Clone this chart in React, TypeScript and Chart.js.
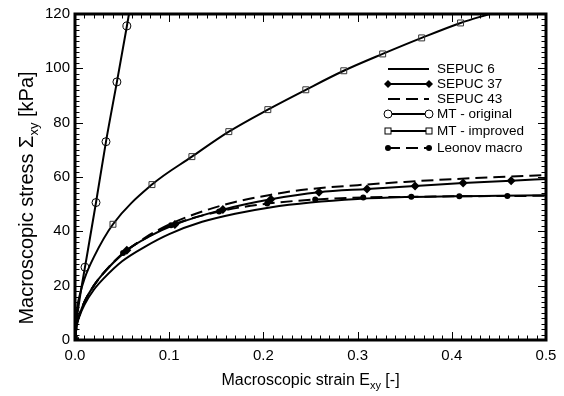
import React, { useEffect, useRef } from "react";
import { Chart, registerables } from "chart.js";

Chart.register(...registerables);

const FONT = '"Liberation Sans", Arial, Helvetica, sans-serif';

// ---------- data ----------
const sepuc6Strain = [0, 0.002, 0.005, 0.01, 0.02, 0.03, 0.05, 0.075, 0.1, 0.135, 0.17, 0.207, 0.25, 0.3, 0.35, 0.4, 0.45, 0.5];
const sepuc6Stress = [0, 5.5, 9, 13, 18.5, 22.5, 29, 34.5, 39, 43.5, 46.5, 48.8, 50.6, 51.9, 52.6, 52.9, 53.1, 53.3];

const sepuc37Strain = [0, 0.002, 0.005, 0.01, 0.02, 0.03, 0.055, 0.08, 0.106, 0.157, 0.208, 0.259, 0.31, 0.361, 0.412, 0.463, 0.5];
const sepuc37Stress = [0, 6, 9.5, 14, 20, 24.5, 33, 38.3, 42.5, 48, 51.8, 54.4, 55.6, 56.7, 57.8, 58.6, 59.3];
const sepuc37Markers = [0, 0.055, 0.106, 0.157, 0.208, 0.259, 0.31, 0.361, 0.412, 0.463];

const sepuc43Strain = [0, 0.002, 0.005, 0.01, 0.02, 0.03, 0.05, 0.075, 0.1, 0.135, 0.17, 0.207, 0.24, 0.3, 0.35, 0.4, 0.45, 0.5];
const sepuc43Stress = [0, 6, 9.5, 14, 20, 24.5, 31.5, 37.8, 42.5, 47.3, 50.8, 53.4, 55.2, 57, 58.2, 59.2, 60, 60.7];

const mtOrigStrain = [0, 0.001, 0.003, 0.006, 0.0106, 0.0223, 0.0329, 0.0445, 0.0551, 0.0573];
const mtOrigStress = [0, 5, 10.5, 17.5, 26.8, 50.6, 73, 95, 115.6, 120];
const mtOrigMarkers = [0, 0.0106, 0.0223, 0.0329, 0.0445, 0.0551];

const mtImpStrain = [0, 0.002, 0.005, 0.01, 0.02, 0.0403, 0.0817, 0.1241, 0.1633, 0.2047, 0.245, 0.2853, 0.3266, 0.368, 0.4093, 0.4401];
const mtImpStress = [0, 11, 16.5, 22.5, 30.5, 42.6, 57.2, 67.5, 76.7, 84.8, 92.1, 99.1, 105.3, 111.2, 116.7, 120];
const mtImpMarkers = [0, 0.0403, 0.0817, 0.1241, 0.1633, 0.2047, 0.245, 0.2853, 0.3266, 0.368, 0.4093];

const leonovStrain = [0, 0.002, 0.005, 0.01, 0.02, 0.03, 0.051, 0.075, 0.102, 0.153, 0.204, 0.255, 0.306, 0.357, 0.408, 0.459, 0.5];
const leonovStress = [0, 6, 9.5, 14, 20, 24.5, 32, 37.5, 42.2, 47.3, 50.2, 51.7, 52.5, 52.7, 52.9, 53, 53.1];
const leonovMarkers = [0, 0.051, 0.102, 0.153, 0.204, 0.255, 0.306, 0.357, 0.408, 0.459];

const legendLabels = ["SEPUC 6", "SEPUC 37", "SEPUC 43", "MT - original", "MT - improved", "Leonov macro"];

const xMin = 0, xMax = 0.5, xMajor = 0.1, xMinor = 0.01;
const yMin = 0, yMax = 120, yMajor = 20, yMinor = 2;

const xTitle = ["Macroscopic strain E", "xy", " [-]"];
const yTitle = ["Macroscopic stress \u03A3", "xy", " [kPa]"];

// ---------- helpers ----------
const pts = (xs: number[], ys: number[]) => xs.map((x, i) => ({ x, y: ys[i] }));
const markerRadius = (markers: number[], r: number) => (ctx: any) => {
  const raw = ctx.raw;
  if (!raw) return 0;
  return markers.some((m) => Math.abs(m - raw.x) < 1e-9) ? r : 0;
};

type Marker = "none" | "circleOpen" | "diamond" | "square" | "dot";

function drawMarker(ctx: CanvasRenderingContext2D, kind: Marker, x: number, y: number) {
  ctx.save();
  ctx.setLineDash([]);
  ctx.strokeStyle = "#000";
  ctx.fillStyle = "#000";
  if (kind === "circleOpen") {
    ctx.lineWidth = 1;
    ctx.beginPath();
    ctx.arc(x, y, 4, 0, Math.PI * 2);
    ctx.fillStyle = "#fff";
    ctx.fill();
    ctx.stroke();
  } else if (kind === "square") {
    ctx.lineWidth = 1;
    ctx.fillStyle = "#fff";
    ctx.fillRect(x - 3, y - 3, 6, 6);
    ctx.strokeRect(x - 3, y - 3, 6, 6);
  } else if (kind === "diamond") {
    ctx.beginPath();
    ctx.moveTo(x, y - 4);
    ctx.lineTo(x + 4, y);
    ctx.lineTo(x, y + 4);
    ctx.lineTo(x - 4, y);
    ctx.closePath();
    ctx.fill();
  } else if (kind === "dot") {
    ctx.beginPath();
    ctx.arc(x, y, 3, 0, Math.PI * 2);
    ctx.fill();
  }
  ctx.restore();
}

function drawSubText(
  ctx: CanvasRenderingContext2D,
  parts: string[],
  cx: number,
  baseline: number,
  size: number,
  subSize: number,
  subDrop: number
) {
  ctx.font = `${size}px ${FONT}`;
  const w0 = ctx.measureText(parts[0]).width;
  const w2 = ctx.measureText(parts[2]).width;
  ctx.font = `${subSize}px ${FONT}`;
  const w1 = ctx.measureText(parts[1]).width;
  const total = w0 + w1 + w2;
  let x = cx - total / 2;
  ctx.textAlign = "left";
  ctx.textBaseline = "alphabetic";
  ctx.fillStyle = "#000";
  ctx.font = `${size}px ${FONT}`;
  ctx.fillText(parts[0], x, baseline);
  x += w0;
  ctx.font = `${subSize}px ${FONT}`;
  ctx.fillText(parts[1], x, baseline + subDrop);
  x += w1;
  ctx.font = `${size}px ${FONT}`;
  ctx.fillText(parts[2], x, baseline);
}

const legendStyles: { dash: number[]; marker: Marker }[] = [
  { dash: [], marker: "none" },
  { dash: [], marker: "diamond" },
  { dash: [12, 6], marker: "none" },
  { dash: [], marker: "circleOpen" },
  { dash: [], marker: "square" },
  { dash: [12, 6], marker: "dot" },
];
const legendRowsY = [69, 84, 99, 114, 131, 148];

const framePlugin = {
  id: "framePlugin",
  afterDatasetsDraw(chart: any) {
    const ctx: CanvasRenderingContext2D = chart.ctx;
    const { left, right, top, bottom } = chart.chartArea;
    const xs = chart.scales.x;
    const ys = chart.scales.y;
    ctx.save();
    // ticks
    ctx.strokeStyle = "#000";
    ctx.lineWidth = 1;
    ctx.setLineDash([]);
    const nX = Math.round((xMax - xMin) / xMinor);
    for (let i = 0; i <= nX; i++) {
      const v = xMin + i * xMinor;
      const major = i % Math.round(xMajor / xMinor) === 0;
      const len = major ? 8 : 4.5;
      const px = Math.round(xs.getPixelForValue(v)) + 0.5;
      ctx.beginPath();
      ctx.moveTo(px, bottom);
      ctx.lineTo(px, bottom - len);
      ctx.moveTo(px, top);
      ctx.lineTo(px, top + len);
      ctx.stroke();
    }
    const nY = Math.round((yMax - yMin) / yMinor);
    for (let i = 0; i <= nY; i++) {
      const v = yMin + i * yMinor;
      const major = i % Math.round(yMajor / yMinor) === 0;
      const len = major ? 8 : 4.5;
      const py = Math.round(ys.getPixelForValue(v)) + 0.5;
      ctx.beginPath();
      ctx.moveTo(left, py);
      ctx.lineTo(left + len, py);
      ctx.moveTo(right, py);
      ctx.lineTo(right - len, py);
      ctx.stroke();
    }
    // frame
    ctx.lineWidth = 3;
    ctx.strokeRect(left, top, right - left, bottom - top);

    // legend
    const lx0 = 388, lx1 = 429, tx = 437;
    legendLabels.forEach((label, i) => {
      const y = legendRowsY[i];
      const st = legendStyles[i];
      ctx.save();
      ctx.strokeStyle = "#000";
      ctx.lineWidth = 2;
      ctx.setLineDash(st.dash);
      ctx.beginPath();
      ctx.moveTo(lx0, y);
      ctx.lineTo(lx1, y);
      ctx.stroke();
      ctx.restore();
      if (st.marker !== "none") {
        drawMarker(ctx, st.marker, lx0, y);
        drawMarker(ctx, st.marker, lx1, y);
      }
      ctx.font = `13.5px ${FONT}`;
      ctx.fillStyle = "#000";
      ctx.textAlign = "left";
      ctx.textBaseline = "middle";
      ctx.fillText(label, tx, y + 0.5);
    });

    // axis titles
    drawSubText(ctx, xTitle, (left + right) / 2, 385, 16, 11, 4);
    ctx.save();
    ctx.translate(33, 198);
    ctx.rotate(-Math.PI / 2);
    drawSubText(ctx, yTitle, 0, 0, 20, 13, 5);
    ctx.restore();
    ctx.restore();
  },
};

export default function App() {
  const ref = useRef<HTMLCanvasElement | null>(null);
  useEffect(() => {
    document.body.style.margin = "0";
    const canvas = ref.current;
    if (!canvas) return;
    const line = (
      xs: number[],
      ys: number[],
      dash: number[],
      opts: any = {}
    ) => ({
      data: pts(xs, ys),
      borderColor: "#000",
      borderWidth: 2,
      borderDash: dash,
      cubicInterpolationMode: "monotone",
      pointRadius: 0,
      pointHoverRadius: 0,
      ...opts,
    });
    const chart = new Chart(canvas, {
      type: "line",
      data: {
        datasets: [
          line(sepuc6Strain, sepuc6Stress, [], { label: legendLabels[0] }),
          line(sepuc37Strain, sepuc37Stress, [], {
            label: legendLabels[1],
            pointStyle: "rectRot",
            pointRadius: markerRadius(sepuc37Markers, 4.5),
            pointBackgroundColor: "#000",
            pointBorderColor: "#000",
            pointBorderWidth: 0,
          }),
          line(sepuc43Strain, sepuc43Stress, [12, 6], { label: legendLabels[2] }),
          line(mtOrigStrain, mtOrigStress, [], {
            label: legendLabels[3],
            pointStyle: "circle",
            pointRadius: markerRadius(mtOrigMarkers, 4),
            pointBackgroundColor: "rgba(255,255,255,0)",
            pointBorderColor: "#000",
            pointBorderWidth: 1,
          }),
          line(mtImpStrain, mtImpStress, [], {
            label: legendLabels[4],
            pointStyle: "rect",
            pointRadius: markerRadius(mtImpMarkers, 4.2),
            pointBackgroundColor: "rgba(255,255,255,0)",
            pointBorderColor: "#333",
            pointBorderWidth: 1,
          }),
          line(leonovStrain, leonovStress, [12, 6], {
            label: legendLabels[5],
            pointStyle: "circle",
            pointRadius: markerRadius(leonovMarkers, 3),
            pointBackgroundColor: "#000",
            pointBorderColor: "#000",
            pointBorderWidth: 0,
          }),
        ],
      },
      options: {
        animation: false,
        responsive: false,
        devicePixelRatio: 1,
        layout: { padding: { top: 13, right: 18, left: 0, bottom: 0 } },
        plugins: {
          legend: { display: false },
          tooltip: { enabled: false },
        },
        scales: {
          x: {
            type: "linear",
            min: xMin,
            max: xMax,
            grid: { display: false, drawTicks: false },
            border: { display: false },
            ticks: {
              stepSize: xMajor,
              autoSkip: false,
              maxRotation: 0,
              padding: 7,
              color: "#000",
              font: { family: FONT, size: 15 },
              callback: (v: any) => Number(v).toFixed(1),
            },
            afterFit: (s: any) => {
              s.height = 56;
            },
          },
          y: {
            type: "linear",
            min: yMin,
            max: yMax,
            grid: { display: false, drawTicks: false },
            border: { display: false },
            ticks: {
              stepSize: yMajor,
              autoSkip: false,
              padding: 5,
              color: "#000",
              font: { family: FONT, size: 15 },
              callback: (v: any) => String(Math.round(Number(v))),
            },
            afterFit: (s: any) => {
              s.width = 75;
            },
          },
        },
      } as any,
      plugins: [framePlugin],
    } as any);
    return () => chart.destroy();
  }, []);
  return (
    <div style={{ width: 564, height: 396 }}>
      <canvas ref={ref} width={564} height={396} style={{ display: "block" }} />
    </div>
  );
}
